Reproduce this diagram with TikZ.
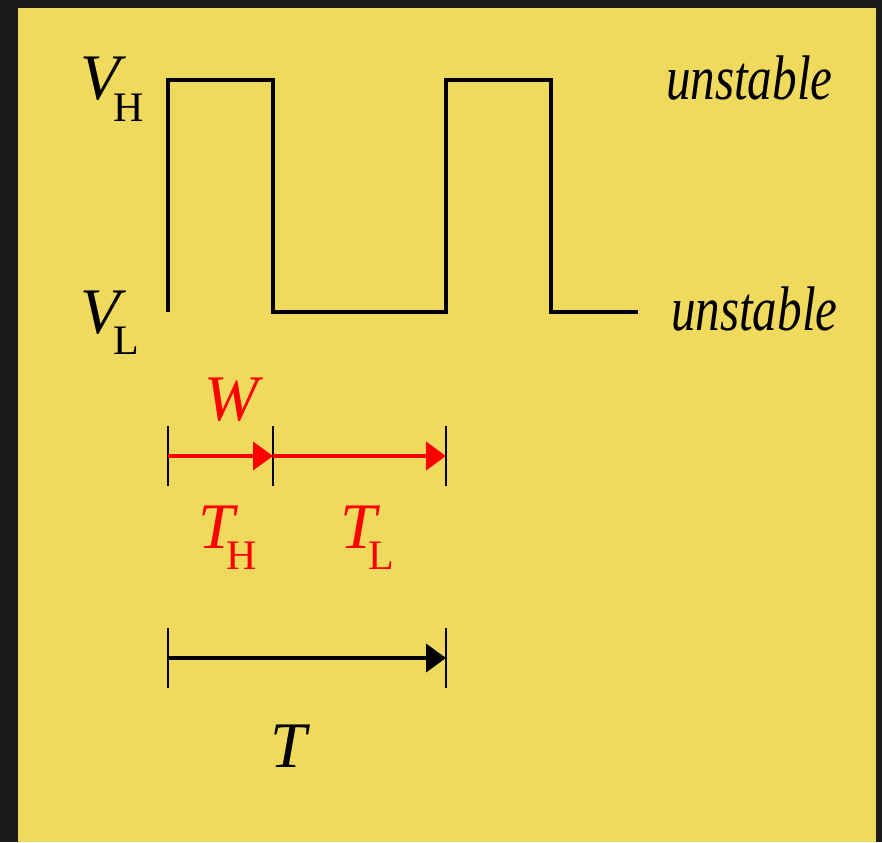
\documentclass[tikz,border=0pt]{standalone}
\usepackage{fontspec}
\setmainfont{Liberation Serif}
\usetikzlibrary{arrows.meta}
\definecolor{frame}{RGB}{27,27,27}
\definecolor{sand}{RGB}{240,218,94}
\newcommand{\symb}[1]{\fontsize{65}{70}\selectfont\itshape #1}
\newcommand{\subs}[1]{\raisebox{-0.33em}{\fontsize{42}{44}\selectfont\upshape #1}}
\begin{document}
\begin{tikzpicture}[
  x=1pt, y=-1pt,
  wave/.style={draw=black, line width=3.4pt},
  tick/.style={draw=black, line width=1.8pt},
  span/.style={line width=4pt, -{Triangle[length=20pt,width=28pt]}},
  lbl/.style={anchor=base west, inner sep=0pt, outer sep=0pt}
]
  % Background.
  \fill[frame] (0,0) rectangle (882,842);
  \fill[sand] (18,8) rectangle (876,842);
  \useasboundingbox (0,0) rectangle (882,842);

  % Waveform.
  \coordinate (w0) at (168,312);
  \coordinate (w1) at (168,80);
  \coordinate (w2) at (273,80);
  \coordinate (w3) at (273,312);
  \coordinate (w4) at (446,312);
  \coordinate (w5) at (446,80);
  \coordinate (w6) at (551,80);
  \coordinate (w7) at (551,312);
  \coordinate (w8) at (638,312);
  \draw[wave, line join=miter] (w0)--(w1)--(w2)--(w3)--(w4)--(w5)--(w6)--(w7)--(w8);

  % Level labels.
  \node[lbl] (vh) at (80,100) {\symb{V}\kern-0.1em\subs{H}};
  \node[lbl] (vl) at (80,333) {\symb{V}\kern-0.1em\subs{L}};
  \node[lbl] (uh) at (666,100) {\scalebox{0.78}[1]{\fontsize{63}{66}\selectfont\itshape unstable}};
  \node[lbl] (ul) at (671,330) {\scalebox{0.78}[1]{\fontsize{63}{66}\selectfont\itshape unstable}};

  % Red spans.
  \coordinate (a0) at (168,456);
  \coordinate (a1) at (273,456);
  \coordinate (a2) at (446,456);
  \foreach \p in {a0,a1,a2}{
    \draw[tick] ([yshift=-30pt]\p)--([yshift=30pt]\p);
  }
  \draw[span, red] (a0)--(a1);
  \draw[span, red] (a1)--(a2);
  \node[lbl, text=red] (w) at (204,420) {\symb{W}};
  \node[lbl, text=red] (th) at (198,548) {\symb{T}\kern-0.12em\subs{H}};
  \node[lbl, text=red] (tl) at (340,548) {\symb{T}\kern-0.12em\subs{L}};

  % Period.
  \coordinate (b0) at (168,658);
  \coordinate (b1) at (446,658);
  \foreach \p in {b0,b1}{
    \draw[tick] ([yshift=-30pt]\p)--([yshift=30pt]\p);
  }
  \draw[span, black] (b0)--(b1);
  \node[lbl] (t) at (270,767) {\symb{T}};
\end{tikzpicture}
\end{document}
